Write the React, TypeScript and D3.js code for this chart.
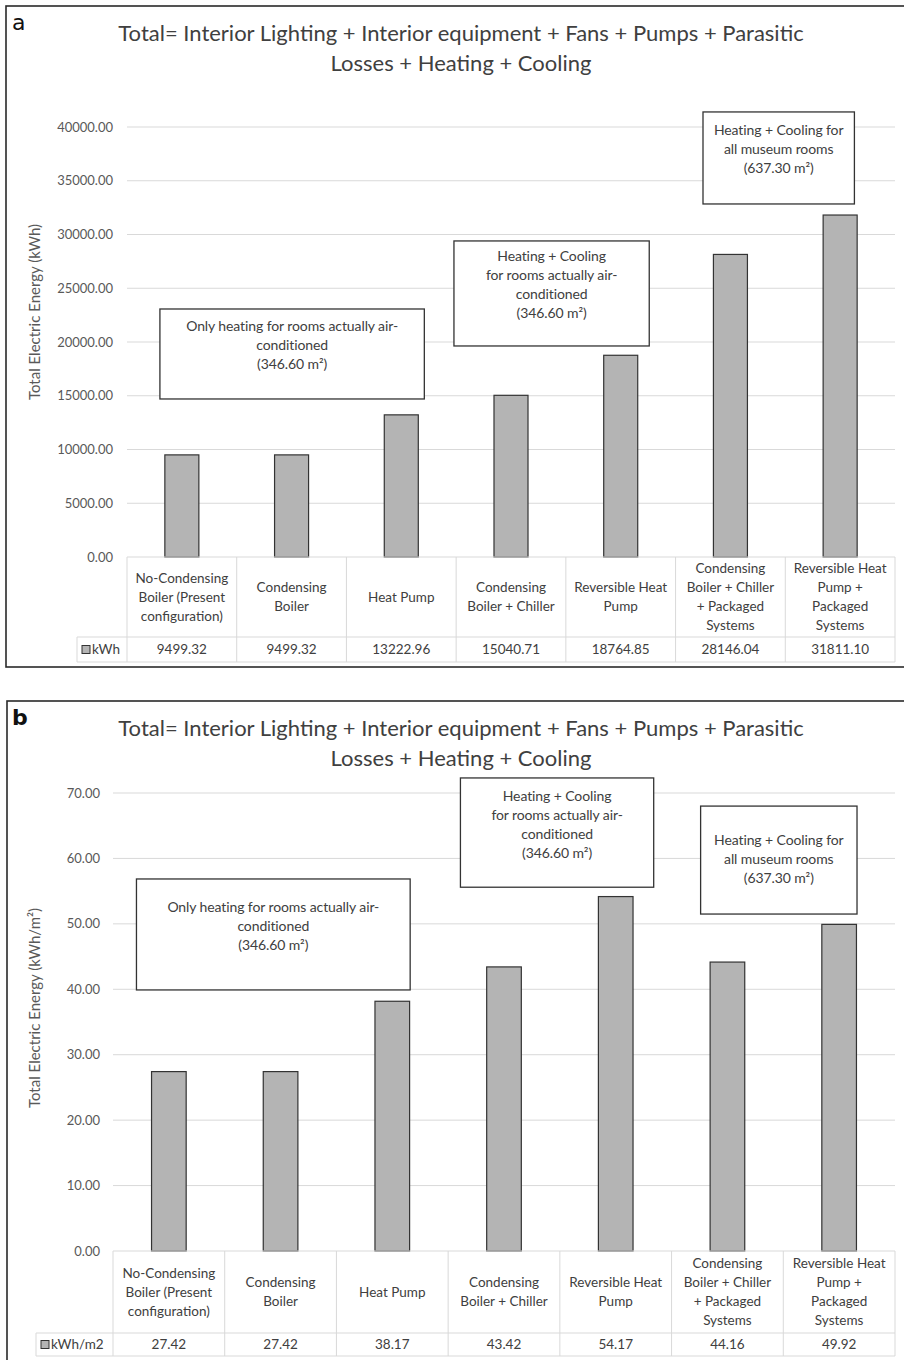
import React from "react";
import * as d3 from "d3";

// ---- data ----
const categoryLines: string[][] = [
  ["No-Condensing", "Boiler (Present", "configuration)"],
  ["Condensing", "Boiler"],
  ["Heat Pump"],
  ["Condensing", "Boiler + Chiller"],
  ["Reversible Heat", "Pump"],
  ["Condensing", "Boiler + Chiller", "+ Packaged", "Systems"],
  ["Reversible Heat", "Pump +", "Packaged", "Systems"],
];

const energyKWh = [9499.32, 9499.32, 13222.96, 15040.71, 18764.85, 28146.04, 31811.1];
const energyKWhM2 = [27.42, 27.42, 38.17, 43.42, 54.17, 44.16, 49.92];

const ticksKWh = [0, 5000, 10000, 15000, 20000, 25000, 30000, 35000, 40000];
const ticksKWhM2 = [0, 10, 20, 30, 40, 50, 60, 70];

const titleLines = [
  "Total= Interior Lighting + Interior equipment + Fans + Pumps + Parasitic",
  "Losses + Heating + Cooling",
];

const noteTexts: string[][] = [
  ["Only heating for rooms actually air-", "conditioned", "(346.60 m²)"],
  ["Heating + Cooling", "for rooms actually air-", "conditioned", "(346.60 m²)"],
  ["Heating + Cooling for", "all museum rooms", "(637.30 m²)"],
];

// ---- layout (band units on x, data units on y) ----
type NotePlace = { b0: number; b1: number; v0: number; v1: number; dy: number };

const notePlacesA: NotePlace[] = [
  { b0: 0.3, b1: 2.71, v0: 14700, v1: 23070, dy: 17 },
  { b0: 2.98, b1: 4.76, v0: 19630, v1: 29400, dy: 15 },
  { b0: 5.25, b1: 6.63, v0: 32840, v1: 41400, dy: 18 },
];
const notePlacesB: NotePlace[] = [
  { b0: 0.21, b1: 2.66, v0: 39.9, v1: 56.86, dy: 28 },
  { b0: 3.11, b1: 4.84, v0: 55.6, v1: 72.3, dy: 18 },
  { b0: 5.26, b1: 6.66, v0: 51.5, v1: 68.0, dy: 34 },
];

type Layout = {
  frameX: number;
  frameY: number;
  frameH: number;
  letterY: number;
  titleY: number;
  plotLeft: number;
  plotRight: number;
  yTop: number;
  yZero: number;
  catBottom: number;
  tableBottom: number;
  keyLeft: number;
  tickRight: number;
  axisTitleX: number;
  axisTitleY: number;
};

const layoutA: Layout = {
  frameX: 6,
  frameY: 6,
  frameH: 661,
  letterY: 30,
  titleY: 41,
  plotLeft: 127,
  plotRight: 895,
  yTop: 127,
  yZero: 557,
  catBottom: 637,
  tableBottom: 662,
  keyLeft: 77,
  tickRight: 113,
  axisTitleX: 35,
  axisTitleY: 312,
};

const layoutB: Layout = {
  frameX: 7,
  frameY: 701,
  frameH: 700,
  letterY: 725,
  titleY: 736,
  plotLeft: 113,
  plotRight: 895,
  yTop: 793,
  yZero: 1251,
  catBottom: 1333,
  tableBottom: 1356,
  keyLeft: 36,
  tickRight: 100,
  axisTitleX: 35,
  axisTitleY: 1008,
};

const FONT = "Lato, 'Open Sans', sans-serif";
const TEXT = "#404040";
const TICK = "#595959";
const GRID = "#d9d9d9";
const BAR_FILL = "#b4b4b4";
const BAR_STROKE = "#333333";
const fmt = d3.format(".2f");

type PanelProps = {
  letter: string;
  letterBold: boolean;
  values: number[];
  ticks: number[];
  seriesName: string;
  axisTitle: string;
  places: NotePlace[];
  L: Layout;
};

function Panel({ letter, letterBold, values, ticks, seriesName, axisTitle, places, L }: PanelProps) {
  const idx = d3.range(values.length);
  const x = d3.scaleBand<number>().domain(idx).range([L.plotLeft, L.plotRight]).paddingInner(0).paddingOuter(0);
  const y = d3
    .scaleLinear()
    .domain([0, d3.max(ticks) as number])
    .range([L.yZero, L.yTop]);
  const bw = x.bandwidth();
  const barW = bw * 0.31;
  const atBand = (b: number) => L.plotLeft + b * bw;
  const catMid = (L.yZero + L.catBottom) / 2;
  const valMid = (L.catBottom + L.tableBottom) / 2;
  const lineH = 19;

  return (
    <g fontFamily={FONT}>
      {/* panel frame */}
      <rect
        x={L.frameX}
        y={L.frameY}
        width={920}
        height={L.frameH}
        fill="#ffffff"
        stroke="#2a2a2a"
        strokeWidth={1.6}
      />
      <text
        x={12}
        y={L.letterY}
        fontFamily="'DejaVu Sans', 'Liberation Sans', Arial, sans-serif"
        fontSize={22}
        fontWeight={letterBold ? 700 : 400}
        fill="#111"
      >
        {letter}
      </text>

      {/* title */}
      {titleLines.map((t, i) => (
        <text
          key={i}
          x={461}
          y={L.titleY + i * 30}
          textAnchor="middle"
          fontSize={22}
          fill={TEXT}
        >
          {t}
        </text>
      ))}

      {/* gridlines & tick labels */}
      {ticks.map((t) => (
        <g key={t}>
          {t > 0 && (
            <line x1={L.plotLeft} x2={L.plotRight} y1={y(t)} y2={y(t)} stroke={GRID} strokeWidth={1} />
          )}
          <text x={L.tickRight} y={y(t)} dy="0.35em" textAnchor="end" fontSize={13} fill={TICK}>
            {fmt(t)}
          </text>
        </g>
      ))}

      {/* axis title */}
      <text
        transform={`translate(${L.axisTitleX},${L.axisTitleY}) rotate(-90)`}
        textAnchor="middle"
        dy="0.35em"
        fontSize={15}
        fill={TICK}
      >
        {axisTitle}
      </text>

      {/* bars */}
      {values.map((v, i) => (
        <rect
          key={i}
          x={(x(i) as number) + (bw - barW) / 2}
          y={y(v)}
          width={barW}
          height={y(0) - y(v)}
          fill={BAR_FILL}
          stroke={BAR_STROKE}
          strokeWidth={1.2}
        />
      ))}

      {/* data table */}
      <g stroke={GRID} strokeWidth={1} fill="none">
        <line x1={L.plotLeft} x2={L.plotRight} y1={L.yZero} y2={L.yZero} />
        <line x1={L.keyLeft} x2={L.plotRight} y1={L.catBottom} y2={L.catBottom} />
        <line x1={L.keyLeft} x2={L.plotRight} y1={L.tableBottom} y2={L.tableBottom} />
        <line x1={L.keyLeft} x2={L.keyLeft} y1={L.catBottom} y2={L.tableBottom} />
        {idx.concat([values.length]).map((i) => (
          <line key={i} x1={atBand(i)} x2={atBand(i)} y1={L.yZero} y2={L.tableBottom} />
        ))}
      </g>
      {categoryLines.map((lines, i) => (
        <text
          key={i}
          x={(x(i) as number) + bw / 2}
          textAnchor="middle"
          fontSize={13.5}
          fill={TEXT}
        >
          {lines.map((ln, j) => (
            <tspan key={j} x={(x(i) as number) + bw / 2} y={catMid + (j - (lines.length - 1) / 2) * lineH} dy="0.35em">
              {ln}
            </tspan>
          ))}
        </text>
      ))}
      {values.map((v, i) => (
        <text
          key={i}
          x={(x(i) as number) + bw / 2}
          y={valMid}
          dy="0.35em"
          textAnchor="middle"
          fontSize={13.5}
          fill={TEXT}
        >
          {fmt(v)}
        </text>
      ))}
      {/* series key */}
      <rect
        x={L.keyLeft + 5}
        y={valMid - 4}
        width={8}
        height={8}
        fill={BAR_FILL}
        stroke={BAR_STROKE}
        strokeWidth={1}
      />
      <text x={L.keyLeft + 15} y={valMid} dy="0.35em" fontSize={13.5} fill={TEXT}>
        {seriesName}
      </text>

      {/* annotation boxes */}
      {places.map((p, k) => {
        const x0 = atBand(p.b0);
        const x1 = atBand(p.b1);
        const yT = y(p.v1);
        const yB = y(p.v0);
        const cx = (x0 + x1) / 2;
        return (
          <g key={k}>
            <rect x={x0} y={yT} width={x1 - x0} height={yB - yT} fill="#ffffff" stroke="#333333" strokeWidth={1.3} />
            {noteTexts[k].map((ln, j) => (
              <text
                key={j}
                x={cx}
                y={yT + p.dy + j * 19}
                dy="0.35em"
                textAnchor="middle"
                fontSize={14}
                letterSpacing={-0.1}
                fill={TEXT}
              >
                {ln}
              </text>
            ))}
          </g>
        );
      })}
    </g>
  );
}

export default function App() {
  return (
    <div style={{ position: "absolute", left: 0, top: 0 }}>
      <svg width={904} height={1360} viewBox="0 0 904 1360" style={{ display: "block", background: "#fff" }}>
        <rect width={904} height={1360} fill="#fff" />
        <Panel
          letter="a"
          letterBold={false}
          values={energyKWh}
          ticks={ticksKWh}
          seriesName="kWh"
          axisTitle="Total Electric Energy (kWh)"
          places={notePlacesA}
          L={layoutA}
        />
        <Panel
          letter="b"
          letterBold={true}
          values={energyKWhM2}
          ticks={ticksKWhM2}
          seriesName="kWh/m2"
          axisTitle="Total Electric Energy (kWh/m²)"
          places={notePlacesB}
          L={layoutB}
        />
      </svg>
    </div>
  );
}
